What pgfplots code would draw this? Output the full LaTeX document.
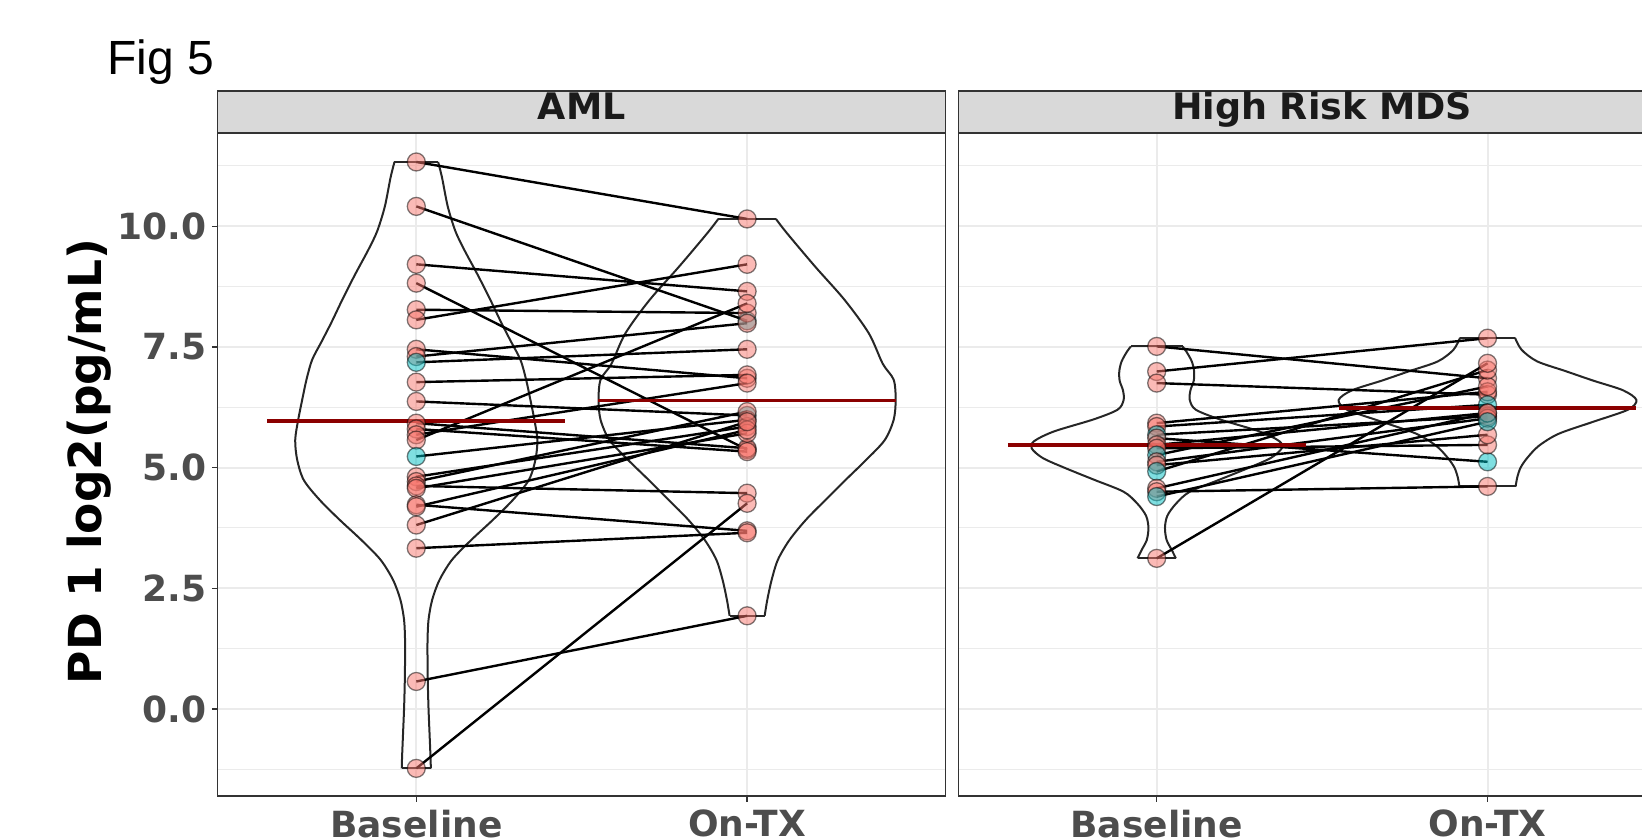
\documentclass[border=0pt]{standalone}
\usepackage{fontspec}
\setmainfont{DejaVu Sans}
\newfontfamily\figfont{Liberation Sans}
\usepackage{pgfplots}
\usepackage{pgfplotstable}
\pgfplotsset{compat=1.18}

\definecolor{gray20}{HTML}{333333}
\definecolor{gray30}{HTML}{4D4D4D}
\definecolor{gray10}{HTML}{1A1A1A}
\definecolor{gridc}{HTML}{EBEBEB}
\definecolor{stripc}{HTML}{D9D9D9}
\definecolor{ggred}{HTML}{F8766D}
\definecolor{ggcyan}{HTML}{00BFC4}
\definecolor{medred}{HTML}{8B0000}

% paired values: baseline, on-treatment, colour class (p = red group, c = cyan group)
\pgfplotstableread{
base ontx cb co
11.33 10.15 p p
10.41 8.04 p c
9.21 8.65 p p
8.82 5.37 p p
8.27 8.20 p p
8.06 9.21 p p
7.45 6.85 p p
7.30 7.99 p p
7.18 7.45 c p
6.77 6.92 p p
6.37 6.08 p c
5.92 5.40 p p
5.80 5.33 p p
5.68 6.75 p p
5.57 8.40 p p
5.23 5.99 c p
4.81 5.85 p p
4.71 6.16 p p
4.62 4.47 p p
4.57 5.71 p p
4.23 3.69 p p
4.19 5.78 p p
3.81 5.95 p p
3.33 3.65 p p
0.57 1.93 p p
-1.23 4.26 p p
}\amlpairs

\pgfplotstableread{
base ontx cb co
7.51 6.85 p p
6.99 7.68 p p
6.75 6.51 p p
5.92 6.57 p p
5.85 6.30 p c
5.68 6.06 c p
5.61 5.12 p c
5.47 6.13 p p
5.40 5.47 p p
5.26 6.68 c p
5.12 6.02 p p
5.05 5.68 p p
4.92 7.02 c p
4.57 6.13 p p
4.50 4.61 p p
4.40 5.95 c c
3.12 7.16 p p
}\mdspairs

% medians
\pgfplotstableread{
x m
1 5.97
2 6.39
}\amlmed
\pgfplotstableread{
x m
1 5.47
2 6.23
}\mdsmed

% violin outlines: y, half width, f = 1 at the flat ends
\pgfplotstableread{
y hw f
-1.23 0.044 1
-1.0 0.043 0
-0.5 0.040 0
0.0 0.037 0
0.5 0.035 0
1.0 0.034 0
1.43 0.034 0
1.85 0.037 0
2.26 0.048 0
2.67 0.070 0
3.09 0.108 0
3.50 0.166 0
3.92 0.232 0
4.33 0.292 0
4.74 0.340 0
5.16 0.360 0
5.57 0.366 0
5.99 0.357 0
6.40 0.345 0
6.82 0.332 0
7.23 0.315 0
7.60 0.287 0
8.00 0.257 0
8.50 0.222 0
9.00 0.185 0
9.51 0.145 0
9.90 0.118 0
10.41 0.095 0
11.00 0.078 0
11.33 0.066 1
}\vAb

\pgfplotstableread{
y hw f
1.93 0.053 1
2.26 0.061 0
2.67 0.074 0
3.09 0.093 0
3.50 0.128 0
3.92 0.178 0
4.33 0.237 0
4.74 0.297 0
5.16 0.360 0
5.57 0.416 0
5.99 0.443 0
6.40 0.449 0
6.82 0.443 0
7.15 0.410 0
7.78 0.368 0
8.47 0.295 0
9.16 0.206 0
9.85 0.121 0
10.15 0.087 1
}\vAo

\pgfplotstableread{
y hw f
3.12 0.058 1
3.30 0.045 0
3.50 0.030 0
3.75 0.025 0
4.00 0.032 0
4.25 0.058 0
4.50 0.100 0
4.75 0.190 0
5.00 0.280 0
5.20 0.345 0
5.40 0.378 0
5.55 0.370 0
5.75 0.310 0
6.00 0.190 0
6.20 0.118 0
6.40 0.100 0
6.60 0.102 0
6.80 0.112 0
7.00 0.113 0
7.20 0.106 0
7.40 0.090 0
7.51 0.078 1
}\vMb

\pgfplotstableread{
y hw f
4.61 0.085 1
4.80 0.090 0
5.00 0.100 0
5.20 0.120 0
5.45 0.155 0
5.70 0.215 0
5.95 0.320 0
6.20 0.425 0
6.40 0.450 0
6.60 0.410 0
6.80 0.320 0
7.00 0.235 0
7.20 0.150 0
7.44 0.103 0
7.69 0.083 1
}\vMo

\pgfplotsset{
  panel/.style={
    scale only axis, width=727.8bp, height=662.9bp,
    anchor=south west,
    xmin=0.4, xmax=2.6, ymin=-1.80, ymax=11.93,
    xtick={1,2}, xticklabels={Baseline,On-TX},
    ytick={0,2.5,5,7.5,10},
    minor ytick={-1.25,1.25,3.75,6.25,8.75,11.25},
    grid=both,
    major grid style={draw=gridc, line width=2bp},
    minor grid style={draw=gridc, line width=1bp},
    axis line style={draw=gray20, line width=1.3bp},
    tick align=outside, major tick length=6bp, minor tick length=0bp,
    tick style={draw=gray20, line width=1.3bp},
    xtick pos=left,
    tick label style={font=\fontsize{36bp}{42bp}\selectfont\bfseries, text=gray30},
    xticklabel style={anchor=north, inner sep=0pt},
    yticklabel style={anchor=east, inner sep=0pt},
    xticklabel shift=8bp,
    yticklabel shift=5bp,
  },
  violin/.style={draw=black!85, line width=2bp, smooth, tension=0.5},
  vend/.style={draw=black!85, line width=2bp},
  pair/.style={draw=black, line width=2.4bp},
  pts/.style={only marks, scatter, scatter src=explicit symbolic, mark=*, mark size=9bp,
    scatter/classes={
      p={mark=*, draw=black, fill=ggred, draw opacity=0.5, fill opacity=0.5},
      c={mark=*, draw=black, fill=ggcyan, draw opacity=0.5, fill opacity=0.5}},
    mark options={line width=1.3bp}},
  med/.style={draw=medred, line width=3.5bp},
}

\begin{document}
\begin{tikzpicture}
\useasboundingbox (0,0) rectangle (1642bp,838bp);
\clip (0,0) rectangle (1642bp,838bp);

% ---------------- AML ----------------
\begin{axis}[panel, at={(217.8bp,42.1bp)}, ytick pos=left,
  yticklabels={0.0,2.5,5.0,7.5,10.0}]
  \addplot[violin] table[x expr=1-\thisrow{hw}, y=y] \vAb;
  \addplot[violin] table[x expr=1+\thisrow{hw}, y=y] \vAb;
  \addplot[vend, quiver={u=2*\thisrow{hw}*\thisrow{f}, v=0}] table[x expr=1-\thisrow{hw}, y=y] \vAb;
  \addplot[violin] table[x expr=2-\thisrow{hw}, y=y] \vAo;
  \addplot[violin] table[x expr=2+\thisrow{hw}, y=y] \vAo;
  \addplot[vend, quiver={u=2*\thisrow{hw}*\thisrow{f}, v=0}] table[x expr=2-\thisrow{hw}, y=y] \vAo;
  \addplot[pts] table[x expr=1, y=base, meta=cb] \amlpairs;
  \addplot[pts] table[x expr=2, y=ontx, meta=co] \amlpairs;
  \addplot[pair, quiver={u=1, v=\thisrow{ontx}-\thisrow{base}}] table[x expr=1, y=base] \amlpairs;
  \addplot[med, quiver={u=0.9, v=0}] table[x expr=\thisrow{x}-0.45, y=m] \amlmed;
\end{axis}

% ---------------- High Risk MDS ----------------
\begin{axis}[panel, at={(958.2bp,42.1bp)}, ytick pos=right, yticklabels={}]
  \addplot[violin] table[x expr=1-\thisrow{hw}, y=y] \vMb;
  \addplot[violin] table[x expr=1+\thisrow{hw}, y=y] \vMb;
  \addplot[vend, quiver={u=2*\thisrow{hw}*\thisrow{f}, v=0}] table[x expr=1-\thisrow{hw}, y=y] \vMb;
  \addplot[violin] table[x expr=2-\thisrow{hw}, y=y] \vMo;
  \addplot[violin] table[x expr=2+\thisrow{hw}, y=y] \vMo;
  \addplot[vend, quiver={u=2*\thisrow{hw}*\thisrow{f}, v=0}] table[x expr=2-\thisrow{hw}, y=y] \vMo;
  \addplot[pts] table[x expr=1, y=base, meta=cb] \mdspairs;
  \addplot[pts] table[x expr=2, y=ontx, meta=co] \mdspairs;
  \addplot[pair, quiver={u=1, v=\thisrow{ontx}-\thisrow{base}}] table[x expr=1, y=base] \mdspairs;
  \addplot[med, quiver={u=0.9, v=0}] table[x expr=\thisrow{x}-0.45, y=m] \mdsmed;
\end{axis}

% facet strips
\draw[fill=stripc, draw=gray20, line width=1.3bp] (217.8bp,705bp) rectangle (945.6bp,746.9bp);
\draw[fill=stripc, draw=gray20, line width=1.3bp] (958.2bp,705bp) rectangle (1686bp,746.9bp);
\node[anchor=base, inner sep=0pt, text=gray10, font=\fontsize{36.5bp}{43bp}\selectfont\bfseries] at (581.7bp,718bp) {AML};
\node[anchor=base, inner sep=0pt, text=gray10, font=\fontsize{36.5bp}{43bp}\selectfont\bfseries] at (1322.1bp,718bp) {High Risk MDS};

% y axis title
\node[rotate=90, anchor=base, inner sep=0pt, text=black, font=\fontsize{45.5bp}{53bp}\selectfont\bfseries] at (101.7bp,376.5bp) {PD 1 log2(pg/mL)};

% figure tag
\node[anchor=base west, inner sep=0pt, font=\fontsize{48bp}{56bp}\selectfont\figfont] at (107bp,763bp) {Fig 5};
\end{tikzpicture}
\end{document}
